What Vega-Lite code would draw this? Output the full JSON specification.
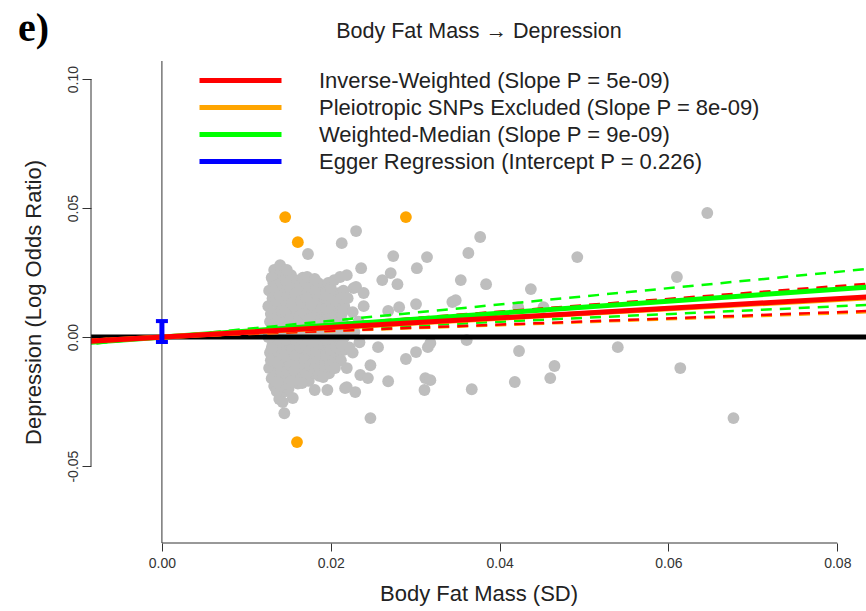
{
  "$schema": "https://vega.github.io/schema/vega-lite/v6.json",
  "width": 775,
  "height": 482,
  "autosize": {"type": "none"},
  "padding": {"left": 91, "top": 61, "right": 0, "bottom": 68},
  "background": "white",
  "config": {"view": {"stroke": null}, "font": "Liberation Sans", "axis": {"grid": false}},
  "title": {"text": "e)", "anchor": "start", "frame": "bounds", "font": "Liberation Serif", "fontWeight": "bold", "fontSize": 40, "color": "#000", "baseline": "alphabetic", "offset": 0, "dx": -4, "dy": 61},
  "resolve": {"axis": {"x": "independent"}},
  "datasets": {
    "snps": [
      {"bfm":0.0127,"dep":0.018},{"bfm":0.0126,"dep":0.012},{"bfm":0.0128,"dep":0.006},{"bfm":0.0126,"dep":0.000},{"bfm":0.0128,"dep":-0.006},{"bfm":0.0127,"dep":-0.012},
      {"bfm":0.0133,"dep":0.026},{"bfm":0.0132,"dep":0.021},{"bfm":0.0134,"dep":0.015},{"bfm":0.0132,"dep":0.009},{"bfm":0.0134,"dep":0.003},{"bfm":0.0133,"dep":-0.003},{"bfm":0.0132,"dep":-0.009},{"bfm":0.0134,"dep":-0.015},{"bfm":0.0133,"dep":-0.019},
      {"bfm":0.0139,"dep":0.023},{"bfm":0.0137,"dep":0.017},{"bfm":0.0139,"dep":0.011},{"bfm":0.0138,"dep":0.005},{"bfm":0.0137,"dep":-0.001},{"bfm":0.0139,"dep":-0.007},{"bfm":0.0138,"dep":-0.013},{"bfm":0.0139,"dep":-0.024},
      {"bfm":0.0144,"dep":0.024},{"bfm":0.0145,"dep":0.019},{"bfm":0.0143,"dep":0.013},{"bfm":0.0145,"dep":0.007},{"bfm":0.0144,"dep":0.001},{"bfm":0.0143,"dep":-0.004},{"bfm":0.0145,"dep":-0.010},{"bfm":0.0144,"dep":-0.016},{"bfm":0.0146,"dep":-0.021},
      {"bfm":0.0150,"dep":0.022},{"bfm":0.0151,"dep":0.016},{"bfm":0.0149,"dep":0.010},{"bfm":0.0151,"dep":0.004},{"bfm":0.0150,"dep":-0.002},{"bfm":0.0149,"dep":-0.008},{"bfm":0.0151,"dep":-0.014},{"bfm":0.0150,"dep":-0.020},
      {"bfm":0.0155,"dep":0.020},{"bfm":0.0156,"dep":0.014},{"bfm":0.0154,"dep":0.008},{"bfm":0.0156,"dep":0.002},{"bfm":0.0155,"dep":-0.004},{"bfm":0.0154,"dep":-0.010},{"bfm":0.0156,"dep":-0.016},
      {"bfm":0.0161,"dep":0.022},{"bfm":0.0162,"dep":0.017},{"bfm":0.0160,"dep":0.011},{"bfm":0.0162,"dep":0.005},{"bfm":0.0161,"dep":-0.001},{"bfm":0.0160,"dep":-0.007},{"bfm":0.0162,"dep":-0.013},{"bfm":0.0161,"dep":-0.018},
      {"bfm":0.0167,"dep":0.023},{"bfm":0.0168,"dep":0.018},{"bfm":0.0166,"dep":0.012},{"bfm":0.0168,"dep":0.006},{"bfm":0.0167,"dep":0.000},{"bfm":0.0166,"dep":-0.006},{"bfm":0.0168,"dep":-0.012},
      {"bfm":0.0173,"dep":0.019},{"bfm":0.0174,"dep":0.013},{"bfm":0.0172,"dep":0.007},{"bfm":0.0174,"dep":0.001},{"bfm":0.0173,"dep":-0.005},{"bfm":0.0172,"dep":-0.011},{"bfm":0.0174,"dep":-0.017},
      {"bfm":0.0179,"dep":0.022},{"bfm":0.0180,"dep":0.016},{"bfm":0.0178,"dep":0.010},{"bfm":0.0180,"dep":0.004},{"bfm":0.0179,"dep":-0.002},{"bfm":0.0178,"dep":-0.008},{"bfm":0.0180,"dep":-0.014},
      {"bfm":0.0185,"dep":0.021},{"bfm":0.0186,"dep":0.015},{"bfm":0.0184,"dep":0.009},{"bfm":0.0186,"dep":0.003},{"bfm":0.0185,"dep":-0.003},{"bfm":0.0184,"dep":-0.009},{"bfm":0.0186,"dep":-0.015},
      {"bfm":0.0191,"dep":0.020},{"bfm":0.0192,"dep":0.014},{"bfm":0.0190,"dep":0.008},{"bfm":0.0192,"dep":0.002},{"bfm":0.0191,"dep":-0.004},{"bfm":0.0190,"dep":-0.010},
      {"bfm":0.0197,"dep":0.021},{"bfm":0.0198,"dep":0.015},{"bfm":0.0196,"dep":0.009},{"bfm":0.0198,"dep":0.003},{"bfm":0.0197,"dep":-0.003},{"bfm":0.0196,"dep":-0.009},{"bfm":0.0198,"dep":-0.014},
      {"bfm":0.0203,"dep":0.016},{"bfm":0.0204,"dep":0.010},{"bfm":0.0202,"dep":0.004},{"bfm":0.0204,"dep":-0.002},{"bfm":0.0203,"dep":-0.008},
      {"bfm":0.0209,"dep":0.017},{"bfm":0.0210,"dep":0.011},{"bfm":0.0208,"dep":0.005},{"bfm":0.0210,"dep":-0.001},{"bfm":0.0209,"dep":-0.007},
      {"bfm":0.0215,"dep":0.018},{"bfm":0.0216,"dep":0.012},{"bfm":0.0214,"dep":0.006},{"bfm":0.0216,"dep":0.000},{"bfm":0.0215,"dep":-0.005},
      {"bfm":0.0221,"dep":0.003},{"bfm":0.0222,"dep":-0.004},
      {"bfm":0.0227,"dep":0.019},{"bfm":0.0228,"dep":0.002},{"bfm":0.0226,"dep":-0.006},
      {"bfm":0.0233,"dep":0.006},{"bfm":0.0234,"dep":-0.002},
      {"bfm":0.0130,"dep":0.023},{"bfm":0.0131,"dep":0.015},{"bfm":0.0129,"dep":0.009},{"bfm":0.0130,"dep":0.003},{"bfm":0.0131,"dep":-0.003},{"bfm":0.0129,"dep":-0.009},{"bfm":0.0130,"dep":-0.016},
      {"bfm":0.0136,"dep":0.020},{"bfm":0.0135,"dep":0.014},{"bfm":0.0137,"dep":0.008},{"bfm":0.0136,"dep":0.002},{"bfm":0.0135,"dep":-0.004},{"bfm":0.0137,"dep":-0.010},{"bfm":0.0136,"dep":-0.021},
      {"bfm":0.0141,"dep":0.026},{"bfm":0.0142,"dep":0.021},{"bfm":0.0140,"dep":0.016},{"bfm":0.0142,"dep":0.010},{"bfm":0.0141,"dep":0.004},{"bfm":0.0140,"dep":-0.002},{"bfm":0.0142,"dep":-0.007},{"bfm":0.0141,"dep":-0.013},{"bfm":0.0140,"dep":-0.019},
      {"bfm":0.0147,"dep":0.022},{"bfm":0.0148,"dep":0.016},{"bfm":0.0146,"dep":0.010},{"bfm":0.0148,"dep":0.004},{"bfm":0.0147,"dep":-0.001},{"bfm":0.0146,"dep":-0.007},{"bfm":0.0148,"dep":-0.013},{"bfm":0.0147,"dep":-0.018},
      {"bfm":0.0153,"dep":0.024},{"bfm":0.0152,"dep":0.019},{"bfm":0.0154,"dep":0.013},{"bfm":0.0152,"dep":0.007},{"bfm":0.0153,"dep":0.001},{"bfm":0.0154,"dep":-0.005},{"bfm":0.0152,"dep":-0.011},{"bfm":0.0153,"dep":-0.017},
      {"bfm":0.0158,"dep":0.017},{"bfm":0.0159,"dep":0.011},{"bfm":0.0157,"dep":0.005},{"bfm":0.0159,"dep":-0.001},{"bfm":0.0158,"dep":-0.007},{"bfm":0.0157,"dep":-0.013},
      {"bfm":0.0164,"dep":0.020},{"bfm":0.0165,"dep":0.014},{"bfm":0.0163,"dep":0.008},{"bfm":0.0165,"dep":0.002},{"bfm":0.0164,"dep":-0.004},{"bfm":0.0163,"dep":-0.010},{"bfm":0.0165,"dep":-0.016},
      {"bfm":0.0170,"dep":0.021},{"bfm":0.0171,"dep":0.015},{"bfm":0.0169,"dep":0.009},{"bfm":0.0171,"dep":0.003},{"bfm":0.0170,"dep":-0.003},{"bfm":0.0169,"dep":-0.009},{"bfm":0.0171,"dep":-0.014},
      {"bfm":0.0176,"dep":0.019},{"bfm":0.0177,"dep":0.013},{"bfm":0.0175,"dep":0.007},{"bfm":0.0177,"dep":0.001},{"bfm":0.0176,"dep":-0.005},{"bfm":0.0175,"dep":-0.011},
      {"bfm":0.0182,"dep":0.018},{"bfm":0.0183,"dep":0.012},{"bfm":0.0181,"dep":0.006},{"bfm":0.0183,"dep":0.000},{"bfm":0.0182,"dep":-0.006},{"bfm":0.0181,"dep":-0.012},
      {"bfm":0.0188,"dep":0.017},{"bfm":0.0189,"dep":0.011},{"bfm":0.0187,"dep":0.005},{"bfm":0.0189,"dep":-0.001},{"bfm":0.0188,"dep":-0.007},{"bfm":0.0187,"dep":-0.012},
      {"bfm":0.0194,"dep":0.017},{"bfm":0.0195,"dep":0.011},{"bfm":0.0193,"dep":0.005},{"bfm":0.0195,"dep":-0.001},{"bfm":0.0194,"dep":-0.007},{"bfm":0.0193,"dep":-0.012},
      {"bfm":0.0200,"dep":0.019},{"bfm":0.0201,"dep":0.013},{"bfm":0.0199,"dep":0.007},{"bfm":0.0201,"dep":0.001},{"bfm":0.0200,"dep":-0.005},{"bfm":0.0199,"dep":-0.011},
      {"bfm":0.0206,"dep":0.014},{"bfm":0.0207,"dep":0.008},{"bfm":0.0205,"dep":0.002},{"bfm":0.0207,"dep":-0.004},{"bfm":0.0206,"dep":-0.010},
      {"bfm":0.0212,"dep":0.015},{"bfm":0.0213,"dep":0.009},{"bfm":0.0211,"dep":0.003},{"bfm":0.0213,"dep":-0.003},{"bfm":0.0212,"dep":-0.009},
      {"bfm":0.0230,"dep":0.0411},{"bfm":0.0213,"dep":0.0364},{"bfm":0.0173,"dep":0.0322},{"bfm":0.0274,"dep":0.0314},{"bfm":0.0236,"dep":0.0267},
      {"bfm":0.0219,"dep":0.0240},{"bfm":0.0271,"dep":0.0248},{"bfm":0.0261,"dep":0.0221},{"bfm":0.0279,"dep":0.0205},{"bfm":0.0302,"dep":0.0267},
      {"bfm":0.0314,"dep":0.0310},{"bfm":0.0230,"dep":0.0194},{"bfm":0.0239,"dep":0.0171},{"bfm":0.0220,"dep":0.0151},{"bfm":0.0239,"dep":0.0120},
      {"bfm":0.0268,"dep":0.0101},{"bfm":0.0281,"dep":0.0116},{"bfm":0.0301,"dep":0.0128},{"bfm":0.0215,"dep":0.0105},{"bfm":0.0226,"dep":0.0097},
      {"bfm":0.0377,"dep":0.0388},{"bfm":0.0363,"dep":0.0326},{"bfm":0.0354,"dep":0.0221},{"bfm":0.0384,"dep":0.0205},{"bfm":0.0437,"dep":0.0186},
      {"bfm":0.0492,"dep":0.0310},{"bfm":0.0344,"dep":0.0136},{"bfm":0.0348,"dep":0.0143},{"bfm":0.0422,"dep":0.0116},{"bfm":0.0452,"dep":0.0116},
      {"bfm":0.0646,"dep":0.0481},{"bfm":0.0610,"dep":0.0233},
      {"bfm":0.0256,"dep":-0.0039},{"bfm":0.0289,"dep":-0.0085},{"bfm":0.0301,"dep":-0.0058},{"bfm":0.0315,"dep":-0.0039},{"bfm":0.0312,"dep":-0.0159},
      {"bfm":0.0311,"dep":-0.0205},{"bfm":0.0268,"dep":-0.0171},{"bfm":0.0247,"dep":-0.0314},{"bfm":0.0219,"dep":-0.0194},{"bfm":0.0229,"dep":-0.0213},
      {"bfm":0.0235,"dep":-0.0147},{"bfm":0.0244,"dep":-0.0159},{"bfm":0.0247,"dep":-0.0109},{"bfm":0.0219,"dep":-0.0120},{"bfm":0.0318,"dep":-0.0023},
      {"bfm":0.0361,"dep":-0.0012},{"bfm":0.0423,"dep":-0.0054},{"bfm":0.0465,"dep":-0.0112},{"bfm":0.0460,"dep":-0.0159},{"bfm":0.0418,"dep":-0.0174},
      {"bfm":0.0367,"dep":-0.0202},{"bfm":0.0318,"dep":-0.0167},{"bfm":0.0540,"dep":-0.0039},{"bfm":0.0614,"dep":-0.0120},{"bfm":0.0677,"dep":-0.0314},
      {"bfm":0.0130,"dep":-0.0043},{"bfm":0.0137,"dep":-0.0174},{"bfm":0.0155,"dep":-0.0236},{"bfm":0.0143,"dep":-0.0252},{"bfm":0.0145,"dep":-0.0295},
      {"bfm":0.0166,"dep":-0.0178},{"bfm":0.0181,"dep":-0.0205},{"bfm":0.0196,"dep":-0.0205},{"bfm":0.0191,"dep":-0.0155},{"bfm":0.0205,"dep":-0.0120},
      {"bfm":0.0217,"dep":-0.0198},
      {"bfm":0.0140,"dep":0.0279},{"bfm":0.0148,"dep":0.0260},{"bfm":0.0172,"dep":0.0233},{"bfm":0.0181,"dep":0.0225},{"bfm":0.0204,"dep":0.0221},{"bfm":0.0211,"dep":0.0233}
    ],
    "excluded": [
      {"bfm":0.0146,"dep":0.0465},{"bfm":0.0161,"dep":0.0368},{"bfm":0.0289,"dep":0.0465},{"bfm":0.0160,"dep":-0.0407}
    ],
    "lines": [
      {"method":"WM","estimate":"lower","bfm":-0.01,"dep":-0.00149},{"method":"WM","estimate":"lower","bfm":0.09,"dep":0.01341},
      {"method":"WM","estimate":"upper","bfm":-0.01,"dep":-0.00316},{"method":"WM","estimate":"upper","bfm":0.09,"dep":0.02844},
      {"method":"WM","estimate":"main","bfm":-0.01,"dep":-0.00232},{"method":"WM","estimate":"main","bfm":0.09,"dep":0.02088},
      {"method":"PSE","estimate":"lower","bfm":-0.01,"dep":-0.00115},{"method":"PSE","estimate":"lower","bfm":0.09,"dep":0.01035},
      {"method":"PSE","estimate":"upper","bfm":-0.01,"dep":-0.00242},{"method":"PSE","estimate":"upper","bfm":0.09,"dep":0.02178},
      {"method":"PSE","estimate":"main","bfm":-0.01,"dep":-0.00182},{"method":"PSE","estimate":"main","bfm":0.09,"dep":0.01638},
      {"method":"IVW","estimate":"lower","bfm":-0.01,"dep":-0.00121},{"method":"IVW","estimate":"lower","bfm":0.09,"dep":0.01089},
      {"method":"IVW","estimate":"upper","bfm":-0.01,"dep":-0.00247},{"method":"IVW","estimate":"upper","bfm":0.09,"dep":0.02223},
      {"method":"IVW","estimate":"main","bfm":-0.01,"dep":-0.00186},{"method":"IVW","estimate":"main","bfm":0.09,"dep":0.01674}
    ],
    "egger": [{"bfm": 0, "lo": -0.0019, "hi": 0.0062}]
  },
  "layer": [
    {
      "data": {"name": "snps"},
      "mark": {"type": "circle", "size": 140, "color": "#bebebe", "opacity": 1, "clip": true},
      "encoding": {
        "x": {"field": "bfm", "type": "quantitative", "scale": {"domain": [-0.0084, 0.0834], "nice": false, "zero": false},
          "axis": {"orient": "bottom", "title": "Body Fat Mass (SD)", "values": [0, 0.02, 0.04, 0.06, 0.08], "format": ".2f", "domain": false, "tickSize": 8, "tickColor": "#333", "labelFontSize": 14, "labelColor": "#333", "labelPadding": 5, "labelFlush": false, "titleFontSize": 22, "titleFontWeight": "normal", "titleColor": "#222", "titlePadding": 13}},
        "y": {"field": "dep", "type": "quantitative", "scale": {"domain": [-0.0798, 0.107], "nice": false, "zero": false},
          "axis": {"title": "Depression (Log Odds Ratio)", "values": [-0.05, 0, 0.05, 0.1], "labelExpr": "datum.value < 0 ? '-' + format(-datum.value, '.2f') : format(datum.value, '.2f')", "domain": false, "tickSize": 9, "tickColor": "#333", "labelAngle": -90, "labelAlign": "center", "labelBaseline": "bottom", "labelPadding": 2, "labelFontSize": 14, "labelColor": "#333", "titleFontSize": 22, "titleFontWeight": "normal", "titleColor": "#222", "titlePadding": 21}}
      }
    },
    {
      "data": {"name": "excluded"},
      "mark": {"type": "circle", "size": 140, "color": "#ffa500", "opacity": 1, "clip": true},
      "encoding": {
        "x": {"field": "bfm", "type": "quantitative", "axis": null},
        "y": {"field": "dep", "type": "quantitative"}
      }
    },
    {
      "data": {"values": [{}]},
      "mark": {"type": "rule", "color": "#333", "strokeWidth": 1},
      "encoding": {
        "x": {"datum": 0, "type": "quantitative", "axis": {"orient": "top", "title": "Body Fat Mass → Depression", "ticks": false, "labels": false, "domain": false, "titleFontSize": 21.5, "titleFontWeight": "normal", "titleColor": "#222", "titlePadding": 19}}
      }
    },
    {
      "data": {"values": [{}]},
      "mark": {"type": "rule", "color": "black", "strokeWidth": 5},
      "encoding": {"y": {"datum": 0, "type": "quantitative"}}
    },
    {
      "data": {"name": "lines"},
      "transform": [{"filter": "datum.estimate != 'main' && datum.method == 'WM'"}],
      "mark": {"type": "line", "strokeWidth": 2.5, "strokeDash": [11, 8], "color": "#00ff00", "clip": true},
      "encoding": {
        "x": {"field": "bfm", "type": "quantitative", "axis": null},
        "y": {"field": "dep", "type": "quantitative"},
        "detail": {"field": "estimate"}
      }
    },
    {
      "data": {"name": "lines"},
      "transform": [{"filter": "datum.estimate != 'main' && datum.method == 'PSE'"}],
      "mark": {"type": "line", "strokeWidth": 2.5, "strokeDash": [11, 8], "color": "#ffa500", "clip": true},
      "encoding": {
        "x": {"field": "bfm", "type": "quantitative", "axis": null},
        "y": {"field": "dep", "type": "quantitative"},
        "detail": {"field": "estimate"}
      }
    },
    {
      "data": {"name": "lines"},
      "transform": [{"filter": "datum.estimate != 'main' && datum.method == 'IVW'"}],
      "mark": {"type": "line", "strokeWidth": 2.5, "strokeDash": [11, 8], "color": "#ff0000", "clip": true},
      "encoding": {
        "x": {"field": "bfm", "type": "quantitative", "axis": null},
        "y": {"field": "dep", "type": "quantitative"},
        "detail": {"field": "estimate"}
      }
    },
    {
      "data": {"name": "lines"},
      "transform": [{"filter": "datum.estimate == 'main'"}],
      "mark": {"type": "line", "strokeWidth": 5, "clip": true},
      "encoding": {
        "x": {"field": "bfm", "type": "quantitative", "axis": null},
        "y": {"field": "dep", "type": "quantitative"},
        "color": {"field": "method", "type": "nominal",
          "scale": {"domain": ["IVW", "PSE", "WM", "Egger"], "range": ["#ff0000", "#ffa500", "#00ff00", "#0000ff"]},
          "legend": {"orient": "none", "legendX": 106, "legendY": 6, "direction": "vertical", "title": null, "symbolType": "stroke", "symbolSize": 6724, "symbolStrokeWidth": 5, "clipHeight": 27, "rowPadding": 0, "padding": 0, "labelFontSize": 22, "labelFont": "Liberation Sans", "labelColor": "#222", "labelOffset": 35, "labelLimit": 700,
            "labelExpr": "datum.label == 'IVW' ? 'Inverse-Weighted (Slope P = 5e-09)' : datum.label == 'PSE' ? 'Pleiotropic SNPs Excluded (Slope P = 8e-09)' : datum.label == 'WM' ? 'Weighted-Median (Slope P = 9e-09)' : 'Egger Regression (Intercept P = 0.226)'"}}
      }
    },
    {
      "data": {"name": "egger"},
      "mark": {"type": "rule", "color": "#0000ff", "strokeWidth": 5},
      "encoding": {
        "x": {"field": "bfm", "type": "quantitative", "axis": null},
        "y": {"field": "lo", "type": "quantitative"},
        "y2": {"field": "hi"}
      }
    },
    {
      "data": {"name": "egger"},
      "mark": {"type": "tick", "color": "#0000ff", "orient": "horizontal", "size": 12, "thickness": 4, "opacity": 1},
      "encoding": {
        "x": {"field": "bfm", "type": "quantitative", "axis": null},
        "y": {"field": "lo", "type": "quantitative"}
      }
    },
    {
      "data": {"name": "egger"},
      "mark": {"type": "tick", "color": "#0000ff", "orient": "horizontal", "size": 12, "thickness": 4, "opacity": 1},
      "encoding": {
        "x": {"field": "bfm", "type": "quantitative", "axis": null},
        "y": {"field": "hi", "type": "quantitative"}
      }
    },
    {
      "data": {"values": [{}]},
      "mark": {"type": "rule", "color": "#333", "strokeWidth": 1},
      "encoding": {
        "x": {"datum": -0.0084, "type": "quantitative", "axis": null},
        "y": {"datum": -0.05, "type": "quantitative"},
        "y2": {"datum": 0.1}
      }
    },
    {
      "data": {"values": [{}]},
      "mark": {"type": "rule", "color": "#333", "strokeWidth": 1},
      "encoding": {
        "y": {"datum": -0.0798, "type": "quantitative"},
        "x": {"datum": 0, "type": "quantitative", "axis": null},
        "x2": {"datum": 0.08}
      }
    }
  ]
}
